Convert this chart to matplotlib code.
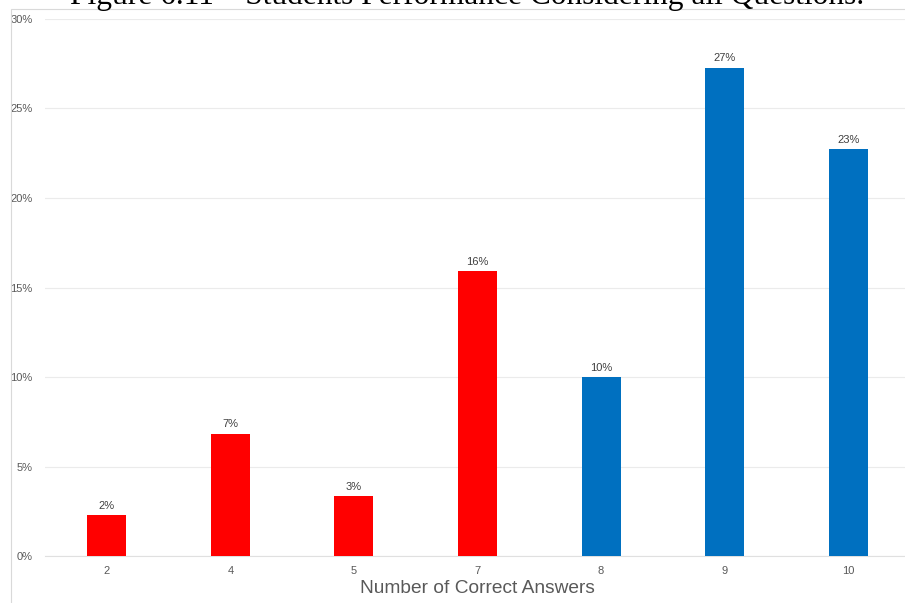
import matplotlib
matplotlib.use("Agg")
import matplotlib.pyplot as plt
from matplotlib.patches import Rectangle

# data
answers = ["2", "4", "5", "7", "8", "9", "10"]
percent = [2.27, 6.82, 3.33, 15.91, 10.0, 27.27, 22.73]
bar_colors = ["#FF0000", "#FF0000", "#FF0000", "#FF0000", "#0070C0", "#0070C0", "#0070C0"]
yticks = [0, 5, 10, 15, 20, 25, 30]

plt.rcParams["font.family"] = ["Liberation Sans", "DejaVu Sans"]

fig = plt.figure(figsize=(9.05, 6.03), dpi=100)
ax = fig.add_axes([0.0497, 0.0779, 0.9558, 0.8906])

# light frame of the chart area
fig.patches.append(Rectangle((11 / 905, -0.1), 1.2, 1 - 9 / 603 + 0.1,
                             transform=fig.transFigure, fill=False,
                             edgecolor="#D9D9D9", linewidth=0.8))

x = range(len(answers))
bars = ax.bar(x, percent, width=0.315, color=bar_colors, zorder=3)
for b, v in zip(bars, percent):
    ax.text(b.get_x() + b.get_width() / 2, v + 0.25, "%d%%" % round(v),
            ha="center", va="bottom", fontsize=8, color="#404040")

ax.set_xlim(-0.5, len(answers) - 0.5)
ax.set_ylim(0, 30)
ax.set_yticks(yticks)
ax.set_yticklabels(["%d%%" % t for t in yticks])
ax.set_xticks(list(x))
ax.set_xticklabels(answers)
ax.tick_params(axis="both", length=0, labelsize=8, labelcolor="#595959")
ax.tick_params(axis="y", pad=9)
ax.tick_params(axis="x", pad=7)
ax.grid(axis="y", color="#EBEBEB", linewidth=0.8, zorder=0)
for s in ["top", "right", "left"]:
    ax.spines[s].set_visible(False)
ax.spines["bottom"].set_color("#E0E0E0")
ax.set_xlabel("Number of Correct Answers", fontsize=13.8, color="#595959", labelpad=3)

# title, clipped at the top of the picture like in the source
fig.text(467 / 905, 1 - 4 / 603, "Figure 6.11 \u2013 Students Performance Considering all Questions.",
         ha="center", va="baseline", fontsize=22.6, family="Liberation Serif", color="black")

fig.savefig("out.png", dpi=100)
